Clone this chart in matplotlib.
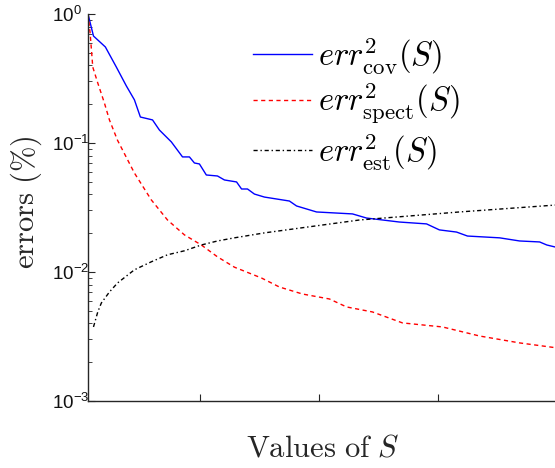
import numpy as np
from matplotlib import pyplot as plt
from matplotlib.ticker import FixedLocator, FuncFormatter, LogLocator, NullFormatter

plt.rcParams['mathtext.fontset'] = 'cm'
# sans font for tick labels only (used through math_fontfamily='custom')
plt.rcParams['mathtext.rm'] = 'Liberation Sans'
plt.rcParams['mathtext.it'] = 'Liberation Sans:italic'
plt.rcParams['mathtext.bf'] = 'Liberation Sans:bold'

# values of S and the three error curves
S_cov = [3, 5.3, 10.3, 14.9, 19.1, 22.5, 25.0, 30.1, 33.0, 38.0, 42.7, 45.6, 47.7, 49.8,
         52.7, 57.4, 60.3, 65.4, 67.5, 70.0, 72.9, 77.1, 87.6, 90.6, 99.0, 114.1, 120.0,
         133.8, 145.2, 150.6, 157.8, 162.4, 175.9, 184.3, 192.7, 195.7, 200]
err_cov = [1.0, 0.675, 0.555, 0.388, 0.277, 0.216, 0.159, 0.151, 0.126, 0.102, 0.078, 0.078,
           0.070, 0.0688, 0.0565, 0.0555, 0.0517, 0.0499, 0.0440, 0.0440, 0.0402, 0.0381,
           0.0355, 0.0325, 0.0292, 0.0282, 0.0262, 0.0244, 0.0236, 0.0212, 0.0204, 0.0190,
           0.0184, 0.0174, 0.0171, 0.0162, 0.0155]

S_spect = [3, 3.9, 5.0, 7.1, 9.9, 12.0, 15.4, 22.5, 29.6, 36.4, 43.5, 50.6, 57.4, 64.5,
           75.9, 83.4, 93.1, 104.4, 111.6, 122.5, 135.1, 151.9, 167.5, 184.3, 200]
err_spect = [1.0, 0.71, 0.388, 0.292, 0.204, 0.151, 0.105, 0.0585, 0.0362, 0.0253, 0.0194,
             0.0162, 0.0131, 0.0109, 0.00898, 0.00765, 0.00675, 0.00618, 0.00536, 0.00490,
             0.00403, 0.00375, 0.00319, 0.00282, 0.00258]

S_est = [5.3, 7.1, 8.6, 12.0, 15.4, 22.5, 29.6, 36.4, 43.5, 50.6, 57.4, 64.5, 77.1, 117.0,
         159.0, 200]
err_est = [0.00375, 0.0049, 0.00575, 0.0070, 0.00822, 0.0104, 0.0120, 0.0136, 0.0146, 0.0162,
           0.0174, 0.0184, 0.0201, 0.0253, 0.0292, 0.0331]

x_ticks = [50, 100, 150, 200]
y_ticks = [1e-3, 1e-2, 1e-1, 1]

fig = plt.figure(figsize=(5.55, 4.68), dpi=100)
ax = fig.add_axes([88/555, 67/468, 469/555, 387/468])

ax.plot(S_cov, err_cov, '-', color='blue', lw=1.0, label=r'$err^2_{\mathrm{cov}}(S)$')
ax.plot(S_spect, err_spect, '--', color='red', lw=1.0, dashes=(3, 2.5),
        label=r'$err^2_{\mathrm{spect}}(S)$')
ax.plot(S_est, err_est, '-.', color='black', lw=1.0, dashes=(3, 2, 1, 2),
        label=r'$err^2_{\mathrm{est}}(S)$')

ax.set_yscale('log')
ax.set_ylim(1e-3, 1)
ax.set_xlim(3, 200)

# matlab style axes: box off, ticks inside
ax.spines['top'].set_visible(False)
ax.spines['right'].set_visible(False)
for sp in ['left', 'bottom']:
    ax.spines[sp].set_color('#262626')
    ax.spines[sp].set_linewidth(1.0)
ax.tick_params(which='both', direction='in', colors='#262626')
ax.tick_params(which='major', length=5)
ax.tick_params(axis='y', which='major', pad=26)
ax.tick_params(which='minor', length=3)
ax.xaxis.set_major_locator(FixedLocator(x_ticks))
ax.set_xticklabels([])
ax.yaxis.set_major_locator(FixedLocator(y_ticks))
ax.yaxis.set_minor_locator(LogLocator(base=10, subs=np.arange(2, 10)))
ax.yaxis.set_minor_formatter(NullFormatter())
ax.yaxis.set_major_formatter(FuncFormatter(lambda v, p: r'$10^{%d}$' % round(np.log10(v))))
for lab in ax.get_yticklabels():
    lab.set_fontsize(13.5)
    lab.set_color('#111111')
    lab.set_math_fontfamily('custom')
    lab.set_horizontalalignment('left')

ax.set_ylabel(r'$\mathrm{errors\ (\%)}$', fontsize=22, color='#262626')
ax.yaxis.set_label_coords(-0.094, 0.513)
ax.set_xlabel(r'$\mathrm{Values\ of}\ S$', fontsize=22, color='#262626')
ax.xaxis.set_label_coords(0.5, -0.085)

ax.legend(loc='upper left', bbox_to_anchor=(253/555, 1 - 36/468), bbox_transform=fig.transFigure,
          frameon=False, fontsize=23.5, handlelength=1.8, handletextpad=0.2, labelspacing=0.19,
          borderpad=0, borderaxespad=0)

plt.savefig('out.png', dpi=100)
plt.close()
